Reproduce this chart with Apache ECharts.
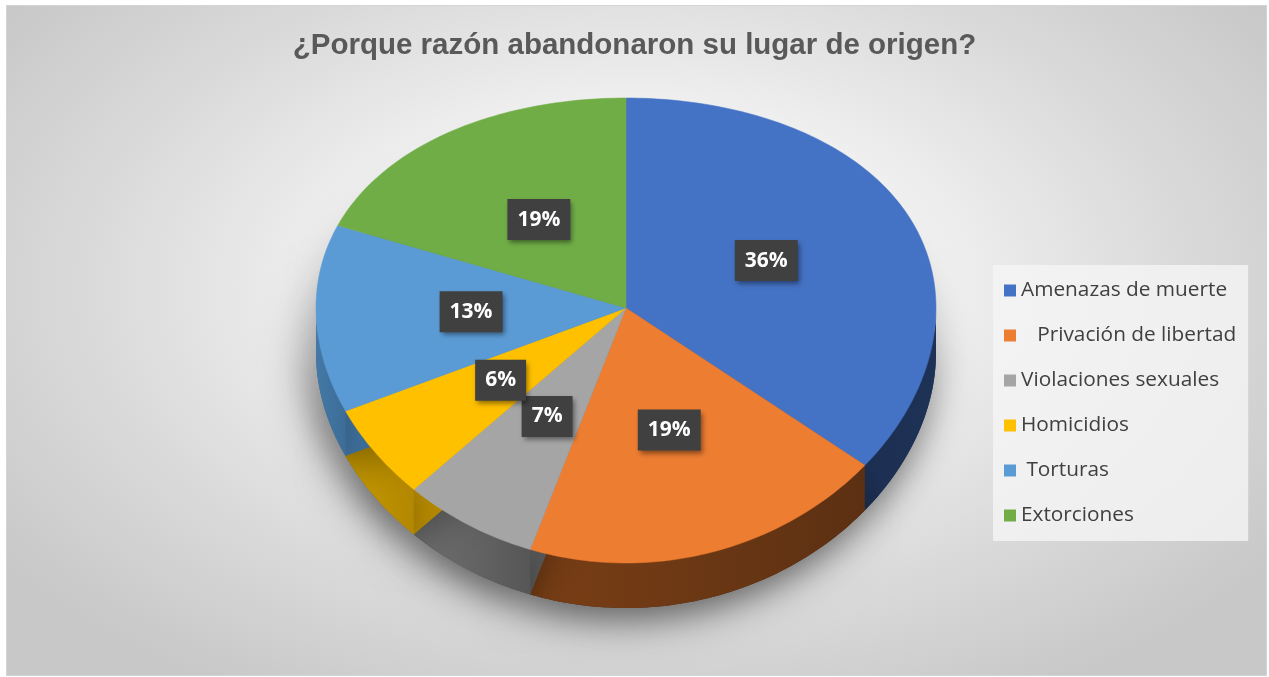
<!DOCTYPE html>
<html>
<head>
<meta charset="utf-8">
<script src="https://cdn.jsdelivr.net/npm/echarts@6/dist/echarts.min.js"></script>
<style>
html, body { margin: 0; padding: 0; background: #fff; }
#marco {
	position: absolute; left: 6px; top: 5px; width: 1259px; height: 669px;
	border: 1px solid #d4d4d4;
	background: radial-gradient(ellipse 62% 70% at 50% 42%, #fcfcfc 0%, #f2f2f2 35%, #dadada 70%, #c8c8c8 100%);
}
#main { position: absolute; left: 0; top: 0; width: 1269px; height: 677px; }
</style>
</head>
<body>
<div id="marco"></div>
<div id="main"></div>
<script>
var categorias = ['Amenazas de muerte', '   Privación de libertad', 'Violaciones sexuales', 'Homicidios', ' Torturas', 'Extorciones'];
var porcentajes = [36, 19, 7, 6, 13, 19];

var colores = ['#4472c4', '#ed7d31', '#a5a5a5', '#ffc000', '#5b9bd5', '#70ad47'];
var coloresLado = [['#1c2f52', '#1e3256'], ['#7a3f15', '#5c3013'], ['#727272', '#565656'], ['#c89b00', '#b38700'], ['#4478a6', '#3d6d98'], ['#507c33', '#4a732f']];

// geometria del pastel "3D"
var CX = 626, CY = 308, RX = 310, RY_ARR = 210, RY_ABA = 255, GROSOR = 45;
var A = (RY_ARR + RY_ABA) / 2, B = (RY_ARR - RY_ABA) / 2;

function borde(t, f, dy) {
	var c = Math.cos(t), s = Math.sin(t);
	return [CX + RX * f * s, CY - (A + B * c) * c * f + dy];
}
function angulos(i) {
	var total = 0, ini = 0;
	porcentajes.forEach(function (v, k) { total += v; if (k < i) ini += v; });
	return [ini / total * 2 * Math.PI, (ini + porcentajes[i]) / total * 2 * Math.PI];
}
function sector(t0, t1, dy) {
	var pts = [[CX, CY + dy]];
	var n = Math.max(4, Math.ceil((t1 - t0) / 0.02));
	for (var k = 0; k <= n; k++) pts.push(borde(t0 + (t1 - t0) * k / n, 1, dy));
	return pts;
}

var myChart = echarts.init(document.getElementById('main'));

var datos = porcentajes.map(function (v, i) { return { name: categorias[i], value: v }; });

option = {
	animation: false,
	title: {
		text: '¿Porque razón abandonaron su lugar de origen?',
		left: 'center',
		top: 26,
		textStyle: { fontFamily: '"Liberation Sans", Arial', fontWeight: 'bold', fontSize: 29.5, color: '#595959' }
	},
	legend: {
		orient: 'vertical',
		left: 993,
		top: 265,
		data: categorias,
		icon: 'rect',
		itemWidth: 12,
		itemHeight: 12,
		itemGap: 24,
		itemTextGap: 8,
		itemStyle: { borderWidth: 0 },
		padding: [15, 12, 15, 11],
		backgroundColor: 'rgba(245,245,245,0.8)',
		textStyle: { fontFamily: '"Open Sans"', fontSize: 20.8, color: '#404040', lineHeight: 21 }
	},
	series: [{
		// solo para la leyenda
		type: 'pie',
		radius: [0, 0],
		center: [CX, CY],
		silent: true,
		label: { show: false },
		labelLine: { show: false },
		data: porcentajes.map(function (v, i) { return { name: categorias[i], value: v, itemStyle: { color: colores[i] } }; })
	}, {
		// paredes y sombra
		type: 'custom',
		coordinateSystem: 'none',
		silent: true,
		data: datos,
		renderItem: function (params, api) {
			var i = params.dataIndex;
			var a = angulos(i);
			var hijos = [{
				type: 'polygon',
				shape: { points: sector(a[0], a[1], GROSOR) },
				style: { fill: coloresLado[i][1], shadowBlur: 45, shadowColor: 'rgba(0,0,0,0.38)', shadowOffsetX: -8, shadowOffsetY: 12 }
			}];
			var t0 = Math.max(a[0], Math.PI / 2), t1 = Math.min(a[1], Math.PI * 1.5);
			if (t1 > t0) {
				var arriba = [], abajo = [];
				var n = Math.ceil((t1 - t0) / 0.02);
				for (var k = 0; k <= n; k++) {
					var t = t0 + (t1 - t0) * k / n;
					arriba.push(borde(t, 1, 0));
					abajo.unshift(borde(t, 1, GROSOR));
				}
				hijos.push({
					type: 'polygon',
					shape: { points: arriba.concat(abajo) },
					style: {
						fill: new echarts.graphic.LinearGradient(0, 0, 1, 0, [
							{ offset: 0, color: coloresLado[i][0] },
							{ offset: 1, color: coloresLado[i][1] }
						]),
						shadowBlur: 30, shadowColor: 'rgba(0,0,0,0.3)', shadowOffsetX: -4, shadowOffsetY: 10
					}
				});
			}
			return { type: 'group', children: hijos };
		}
	}, {
		// cara superior y etiquetas
		type: 'custom',
		coordinateSystem: 'none',
		silent: true,
		data: datos,
		renderItem: function (params, api) {
			var i = params.dataIndex;
			var a = angulos(i);
			var p = borde((a[0] + a[1]) / 2, 0.5, 0);
			return {
				type: 'group',
				children: [{
					type: 'polygon',
					shape: { points: sector(a[0], a[1], 0) },
					style: { fill: colores[i], stroke: colores[i], lineWidth: 0.5 }
				}, {
					type: 'text',
					x: p[0],
					y: p[1],
					z2: 10,
					style: {
						text: api.value(0) + '%',
						fill: '#ffffff',
						font: 'bold 21px "Open Sans"',
						align: 'center',
						verticalAlign: 'middle',
						backgroundColor: '#404040',
						padding: [10, 10, 10, 10],
						shadowBlur: 5,
						shadowColor: 'rgba(0,0,0,0.45)',
						shadowOffsetX: 2,
						shadowOffsetY: 3
					}
				}]
			};
		}
	}]
};

myChart.setOption(option);
</script>
</body>
</html>
